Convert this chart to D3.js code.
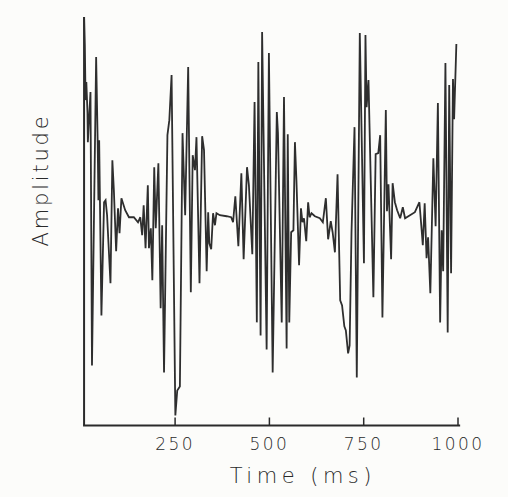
<!DOCTYPE html>
<html>
<head>
<meta charset="utf-8">
<script src="https://cdn.jsdelivr.net/npm/d3@7"></script>
<style>
  html, body { margin: 0; padding: 0; background: #fcfcfa; }
  svg { display: block; }
  text { font-family: "DejaVu Sans", sans-serif; font-weight: 200; fill: #2a2a2a; }
</style>
</head>
<body>
<svg id="chart" width="508" height="497"></svg>
<script>
// Time (ms) of each traced sample
const times = [10,12,14,16,19,20,27,31,42,46,48,50,56,63,67,71,80,85,89,95,100,104,109,119,129,142,153,159,164,168,173,179,182,187,191,196,200,207,213,217,222,231,236,242,252,257,264,271,278,286,293,298,304,308,316,323,328,335,339,342,347,352,357,361,370,388,400,405,411,419,427,433,442,447,456,462,468,472,478,482,494,500,510,521,524,534,540,547,550,554,559,565,569,573,580,585,589,593,599,604,608,613,622,635,643,651,657,664,669,675,682,689,694,700,704,710,714,719,727,733,741,752,756,759,764,777,783,790,795,801,810,813,817,824,828,834,840,848,855,861,874,887,899,905,908,913,918,922,928,936,942,948,954,958,962,968,974,978,983,988,991,997];
// Amplitude (arbitrary units) of each traced sample
const amplitude = [196,168,113,131,101,71,121,-152,156,73,13,73,-102,11,13,-2,-70,53,23,-38,5,-20,15,3,-4,-4,-9,-4,-22,8,-35,28,-35,-15,-67,46,-15,50,-95,-12,-159,78,93,138,-202,-177,-173,80,-2,146,-79,58,43,76,-70,77,63,-58,1,-30,-36,0,-12,0,-2,-3,-4,-9,17,-33,40,-46,46,28,-41,111,-109,151,-122,181,-136,160,-159,101,80,-109,116,-135,79,-109,-19,-17,71,33,-52,5,-9,-5,-28,11,-4,0,-3,-5,-9,15,-26,-8,-19,-39,39,-87,-92,-113,-117,-140,-132,-19,86,-164,180,-50,178,106,133,-84,59,60,78,-104,103,2,29,-46,30,11,3,-5,6,-5,-2,1,11,-17,-32,10,-45,-24,-80,55,-13,110,-109,-17,-58,150,-119,128,-60,134,94,169];
const tickValues = [250, 500, 750, 1000];
const tickLabels = ["250", "500", "750", "1000"];
const xTitle = "Time (ms)";
const yTitle = "Amplitude";

const svg = d3.select("#chart");
const x = d3.scaleLinear().domain([0, 1000]).range([80.3, 457.5]);
const y = d3.scaleLinear().domain([-212, 196]).range([425.5, 17]);

const data = times.map((t, i) => ({t, a: amplitude[i]}));

// frame lines
svg.append("line")
  .attr("x1", x(10)).attr("x2", x(10))
  .attr("y1", y(196)).attr("y2", y(-212))
  .attr("stroke", "#2a2a2a").attr("stroke-width", 2);
svg.append("line")
  .attr("x1", x(10) - 1).attr("x2", x(1007))
  .attr("y1", y(-212)).attr("y2", y(-212))
  .attr("stroke", "#2a2a2a").attr("stroke-width", 2);

// bottom axis with inward ticks
const axis = d3.axisBottom(x)
  .tickValues(tickValues)
  .tickFormat((d, i) => tickLabels[i])
  .tickSize(-8)
  .tickPadding(12);
const gx = svg.append("g")
  .attr("transform", `translate(0,${y(-212)})`)
  .call(axis);
gx.select(".domain").remove();
gx.selectAll(".tick line").attr("stroke", "#2a2a2a").attr("stroke-width", 1.5);
gx.selectAll(".tick text")
  .attr("font-family", "DejaVu Sans, sans-serif")
  .attr("font-weight", 200)
  .attr("font-size", 17)
  .attr("letter-spacing", "2.5px")
  .attr("fill", "#2a2a2a");

// waveform
const line = d3.line().x(d => x(d.t)).y(d => y(d.a));
svg.append("path")
  .datum(data)
  .attr("d", line)
  .attr("fill", "none")
  .attr("stroke", "#2e2e2e")
  .attr("stroke-width", 1.8)
  .attr("stroke-linejoin", "miter")
  .attr("stroke-miterlimit", 3);

// titles
svg.append("text")
  .attr("x", x(590))
  .attr("y", 483)
  .attr("text-anchor", "middle")
  .attr("font-size", 21)
  .attr("letter-spacing", "4.5px")
  .text(xTitle);

svg.append("text")
  .attr("transform", `translate(48,${180}) rotate(-90)`)
  .attr("text-anchor", "middle")
  .attr("font-size", 21)
  .attr("letter-spacing", "2.8px")
  .text(yTitle);
</script>
</body>
</html>
